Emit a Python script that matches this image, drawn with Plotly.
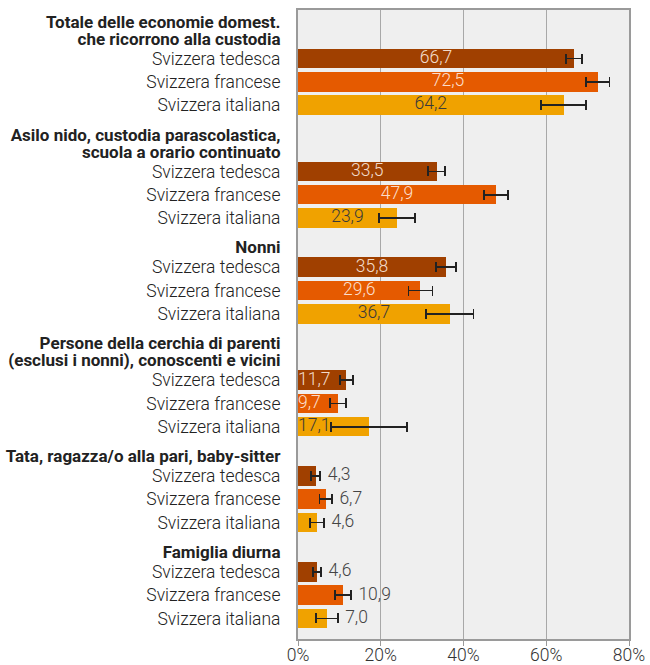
"""
Custodia dei bambini per regione linguistica - barre orizzontali con intervalli di confidenza.
"""

import plotly.graph_objects as go

# ---------------------------------------------------------------------------
# Data
# ---------------------------------------------------------------------------

GROUPS = [
    ["Totale delle economie domest.", "che ricorrono alla custodia"],
    ["Asilo nido, custodia parascolastica,", "scuola a orario continuato"],
    ["Nonni"],
    ["Persone della cerchia di parenti", "(esclusi i nonni), conoscenti e vicini"],
    ["Tata, ragazza/o alla pari, baby-sitter"],
    ["Famiglia diurna"],
]
REGIONS = ["Svizzera tedesca", "Svizzera francese", "Svizzera italiana"]

tedesca = [66.7, 33.5, 35.8, 11.7, 4.3, 4.6]
francese = [72.5, 47.9, 29.6, 9.7, 6.7, 10.9]
italiana = [64.2, 23.9, 36.7, 17.1, 4.6, 7.0]

err_tedesca = [2.0, 2.0, 2.4, 1.5, 1.1, 1.0]
err_francese = [2.8, 2.9, 2.9, 1.9, 1.5, 1.9]
err_italiana = [5.4, 4.3, 5.7, 9.2, 1.7, 2.6]

x_ticks = [0, 20, 40, 60, 80]

# ---------------------------------------------------------------------------
# Style / layout constants
# ---------------------------------------------------------------------------

COLORS = ["#a04000", "#e55a00", "#f0a200"]
FONT = "Roboto"
FS = 17.5
HEAD_FS = 17
PLOT_H = 629          # plot area height in px; y axis is expressed in px
LINE_H = 17           # heading line spacing
PITCH = 23.2          # bar spacing
HEAD_TO_BAR = 20
BAR_TO_HEAD = 29.5
FIRST_HEAD = 11.5
BAR_W = 19.7
OUTSIDE_GROUPS = {4, 5}     # labels placed after the error bar
START_GROUPS = {3}          # labels left-aligned inside the bar


def row_positions():
    """Vertical positions (px from plot top) of heading lines and bars."""
    head_pos, bar_pos = [], []
    y = FIRST_HEAD
    for g, lines in enumerate(GROUPS):
        if g > 0:
            y += BAR_TO_HEAD
        hp = []
        for i in range(len(lines)):
            if i > 0:
                y += LINE_H
            hp.append(y)
        head_pos.append(hp)
        y += HEAD_TO_BAR
        bp = [y + k * PITCH for k in range(len(REGIONS))]
        bar_pos.append(bp)
        y = bp[-1]
    return head_pos, bar_pos


head_pos, bar_pos = row_positions()

fig = go.Figure()

series = [tedesca, francese, italiana]
errors = [err_tedesca, err_francese, err_italiana]

for r, (vals, errs) in enumerate(zip(series, errors)):
    ys = [bar_pos[g][r] for g in range(len(GROUPS))]
    fig.add_trace(
        go.Bar(
            x=vals,
            y=ys,
            orientation="h",
            width=BAR_W,
            marker=dict(color=COLORS[r], line=dict(width=0)),
            error_x=dict(type="data", array=errs, color="#222222",
                         thickness=1.8, width=5),
            showlegend=False,
            hoverinfo="skip",
        )
    )

    # value labels
    lx, ltxt, lpos, lcol = [], [], [], []
    for g, (v, e) in enumerate(zip(vals, errs)):
        txt = f"{v:.1f}".replace(".", ",")
        ltxt.append(txt)
        inside_col = "#3a3a3a" if r == 2 else "rgba(255,240,230,0.9)"
        if g in OUTSIDE_GROUPS:
            lx.append(v + e + 1.8)
            lpos.append("middle right")
            lcol.append("#444444")
        elif g in START_GROUPS:
            lx.append(0)
            lpos.append("middle right")
            lcol.append(inside_col)
        else:
            lx.append(v / 2)
            lpos.append("middle center")
            lcol.append(inside_col)
    fig.add_trace(
        go.Scatter(
            x=lx,
            y=ys,
            mode="text",
            text=ltxt,
            textposition=lpos,
            textfont=dict(family=FONT, size=FS, color=lcol, weight=300),
            showlegend=False,
            hoverinfo="skip",
            cliponaxis=False,
        )
    )

tickvals, ticktext = [], []
for g, lines in enumerate(GROUPS):
    for y, line in zip(head_pos[g], lines):
        tickvals.append(y)
        ticktext.append(f"<span style='font-size:{HEAD_FS}px'><b>{line}</b></span>")
    for y, name in zip(bar_pos[g], REGIONS):
        tickvals.append(y)
        ticktext.append(name)

fig.update_layout(
    width=650,
    height=665,
    margin=dict(l=298, r=21, t=10, b=26),
    plot_bgcolor="#efefef",
    paper_bgcolor="white",
    font=dict(family=FONT, size=FS, color="#333333", weight=300),
    bargap=0,
)

fig.update_xaxes(
    range=[0, 80],
    tickvals=x_ticks,
    ticktext=[f"{t}%" for t in x_ticks],
    showgrid=True,
    gridcolor="#a8a8a8",
    gridwidth=1,
    zeroline=False,
    showline=True,
    linecolor="#9a9a9a",
    linewidth=2,
    mirror=True,
    ticks="outside",
    ticklen=5,
    tickcolor="#9a9a9a",
    ticklabelstandoff=-6,
    tickfont=dict(family=FONT, size=FS, color="#333333"),
    automargin=False,
    fixedrange=True,
)

fig.update_yaxes(
    range=[PLOT_H, 0],
    tickvals=tickvals,
    ticktext=ticktext,
    showgrid=False,
    zeroline=False,
    showline=True,
    linecolor="#9a9a9a",
    linewidth=2,
    mirror=True,
    ticks="",
    ticklabelstandoff=12,
    tickfont=dict(family=FONT, size=FS, color="#222222"),
    automargin=False,
    fixedrange=True,
)

# the page body has a default 8px margin; drop it so the figure fills the window
fig.write_html(
    "out.html",
    config={"displayModeBar": False},
    post_script="document.body.style.margin='0';",
)
